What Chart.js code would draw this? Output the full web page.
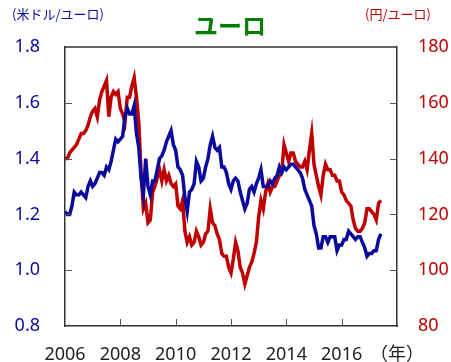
<!DOCTYPE html>
<html>
<head>
<meta charset="utf-8">
<script src="https://cdn.jsdelivr.net/npm/chart.js@4.4.0/dist/chart.umd.min.js"></script>
<style>
  html, body { margin: 0; padding: 0; background: #fff; }
  #wrap { width: 451px; height: 362px; }
</style>
</head>
<body>
<div id="wrap"><canvas id="c" width="451" height="362"></canvas></div>
<script>
// monthly values, Jan 2006 .. Jun 2017
const startYear = 2006;

// 米ドル/ユーロ (left axis)
const usdPerEur = [
  1.21, 1.20, 1.20, 1.23, 1.28, 1.27, 1.27, 1.28, 1.27, 1.26, 1.30, 1.32,
  1.30, 1.31, 1.33, 1.35, 1.35, 1.34, 1.37, 1.36, 1.39, 1.43, 1.47, 1.46,
  1.47, 1.48, 1.55, 1.58, 1.56, 1.56, 1.59, 1.49, 1.44, 1.33, 1.27, 1.40,
  1.30, 1.27, 1.32, 1.32, 1.36, 1.40, 1.41, 1.43, 1.46, 1.48, 1.50, 1.45,
  1.43, 1.37, 1.36, 1.34, 1.26, 1.21, 1.28, 1.29, 1.31, 1.39, 1.37, 1.32,
  1.33, 1.37, 1.40, 1.45, 1.48, 1.44, 1.43, 1.44, 1.37, 1.37, 1.35, 1.31,
  1.29, 1.32, 1.33, 1.32, 1.28, 1.25, 1.22, 1.24, 1.29, 1.30, 1.28, 1.31,
  1.33, 1.36, 1.30, 1.30, 1.30, 1.32, 1.31, 1.33, 1.34, 1.37, 1.35, 1.37,
  1.36, 1.37, 1.38, 1.38, 1.37, 1.36, 1.35, 1.33, 1.29, 1.27, 1.25, 1.23,
  1.16, 1.13, 1.08, 1.08, 1.12, 1.12, 1.10, 1.12, 1.12, 1.12, 1.07, 1.09,
  1.09, 1.11, 1.11, 1.14, 1.13, 1.12, 1.11, 1.12, 1.12, 1.10, 1.08, 1.05,
  1.06, 1.06, 1.07, 1.07, 1.11, 1.13
];

// 円/ユーロ (right axis)
const jpyPerEur = [
  140, 140, 142, 143, 144, 145, 147, 149, 149, 150, 152, 155,
  157, 158, 155, 161, 164, 166, 168, 155, 162, 164, 163, 164,
  158, 156, 153, 162, 162, 166, 169, 162, 153, 135, 122, 124,
  117, 118, 128, 130, 133, 136, 132, 136, 132, 134, 131, 130,
  131, 123, 122, 125, 114, 110, 112, 109, 110, 114, 112, 109,
  110, 113, 114, 122, 117, 116, 113, 111, 106, 105, 105, 101,
  99, 104, 110, 107, 101, 99, 95, 98, 101, 103, 106, 110,
  119, 125, 122, 128, 131, 128, 130, 130, 132, 134, 135, 145,
  142, 139, 142, 142, 139, 138, 137, 137, 139, 136, 143, 149,
  138, 134, 130, 127, 134, 138, 136, 136, 134, 134, 132, 132,
  128, 127, 125, 124, 123, 118, 115, 114, 114, 115, 117, 122,
  122, 121, 120, 118, 124, 125
];

const xTicks = [2006, 2008, 2010, 2012, 2014, 2016, 2018];
const leftTicks = [0.8, 1.0, 1.2, 1.4, 1.6, 1.8];
const rightTicks = [80, 100, 120, 140, 160, 180];

const blueData = usdPerEur.map((v, i) => ({ x: startYear + i / 12, y: v }));
const redData = jpyPerEur.map((v, i) => ({ x: startYear + i / 12, y: v }));

const BLUE = '#0a0a9c';
const RED = '#c00000';
const FONT = "'Noto Sans', 'Noto Sans CJK JP', sans-serif";

// frame top line, inward tick marks and the header texts
const decorPlugin = {
  id: 'decor',
  afterDraw(chart) {
    const ctx = chart.ctx;
    const { left, right, top, bottom } = chart.chartArea;
    const sx = chart.scales.x, sy = chart.scales.y, sy1 = chart.scales.y1;
    ctx.save();
    ctx.strokeStyle = '#333';
    ctx.lineWidth = 1.5;
    ctx.beginPath();
    ctx.moveTo(left, top);
    ctx.lineTo(right, top);
    ctx.stroke();

    ctx.strokeStyle = '#555';
    ctx.lineWidth = 1;
    ctx.beginPath();
    xTicks.slice(1, -1).forEach(v => {
      const px = Math.round(sx.getPixelForValue(v)) + 0.5;
      ctx.moveTo(px, bottom);
      ctx.lineTo(px, bottom - 7);
    });
    leftTicks.slice(1, -1).forEach(v => {
      const py = Math.round(sy.getPixelForValue(v)) + 0.5;
      ctx.moveTo(left, py);
      ctx.lineTo(left + 7, py);
    });
    rightTicks.slice(1, -1).forEach(v => {
      const py = Math.round(sy1.getPixelForValue(v)) + 0.5;
      ctx.moveTo(right, py);
      ctx.lineTo(right - 7, py);
    });
    ctx.stroke();

    ctx.textBaseline = 'middle';
    ctx.textAlign = 'center';
    ctx.fillStyle = '#008000';
    ctx.font = "bold 24px 'Noto Sans CJK JP', sans-serif";
    ctx.fillText('ユーロ', 230, 26);

    ctx.font = "13px 'Noto Sans CJK JP', sans-serif";
    ctx.textAlign = 'left';
    ctx.fillStyle = BLUE;
    ctx.fillText('(米ドル/ユーロ)', 12, 14);
    ctx.fillStyle = RED;
    ctx.fillText('(円/ユーロ)', 365, 14);
    ctx.restore();
  }
};

new Chart(document.getElementById('c'), {
  type: 'line',
  data: {
    datasets: [
      {
        label: '米ドル/ユーロ',
        data: blueData,
        yAxisID: 'y',
        borderColor: BLUE,
        borderWidth: 3.5,
        pointRadius: 0,
        tension: 0
      },
      {
        label: '円/ユーロ',
        data: redData,
        yAxisID: 'y1',
        borderColor: RED,
        borderWidth: 3.5,
        pointRadius: 0,
        tension: 0
      }
    ]
  },
  options: {
    responsive: false,
    animation: false,
    events: [],
    layout: { padding: { top: 47, left: 0, right: 0, bottom: 0 } },
    plugins: {
      legend: { display: false },
      tooltip: { enabled: false }
    },
    scales: {
      x: {
        type: 'linear',
        min: 2006,
        max: 2018,
        afterFit: s => { s.height = 36; },
        afterBuildTicks: s => { s.ticks = xTicks.map(v => ({ value: v })); },
        grid: { display: false, drawTicks: false },
        border: { display: true, color: '#333', width: 1.5 },
        ticks: {
          padding: 18,
          color: '#222',
          font: { family: FONT, size: 18 },
          maxRotation: 0,
          autoSkip: false,
          callback: v => (v === 2018 ? '（年）' : String(v))
        }
      },
      y: {
        position: 'left',
        min: 0.8,
        max: 1.8,
        afterFit: s => { s.width = 65; },
        afterBuildTicks: s => { s.ticks = leftTicks.map(v => ({ value: v })); },
        grid: { display: false, drawTicks: false },
        border: { display: true, color: '#333', width: 1.5 },
        ticks: {
          padding: 25,
          color: BLUE,
          font: { family: FONT, size: 18 },
          callback: v => v.toFixed(1)
        }
      },
      y1: {
        position: 'right',
        min: 80,
        max: 180,
        afterFit: s => { s.width = 54; },
        afterBuildTicks: s => { s.ticks = rightTicks.map(v => ({ value: v })); },
        grid: { display: false, drawTicks: false },
        border: { display: true, color: '#333', width: 1.5 },
        ticks: {
          padding: 21,
          color: RED,
          font: { family: FONT, size: 18 },
          callback: v => String(v)
        }
      }
    }
  },
  plugins: [decorPlugin]
});
</script>
</body>
</html>
